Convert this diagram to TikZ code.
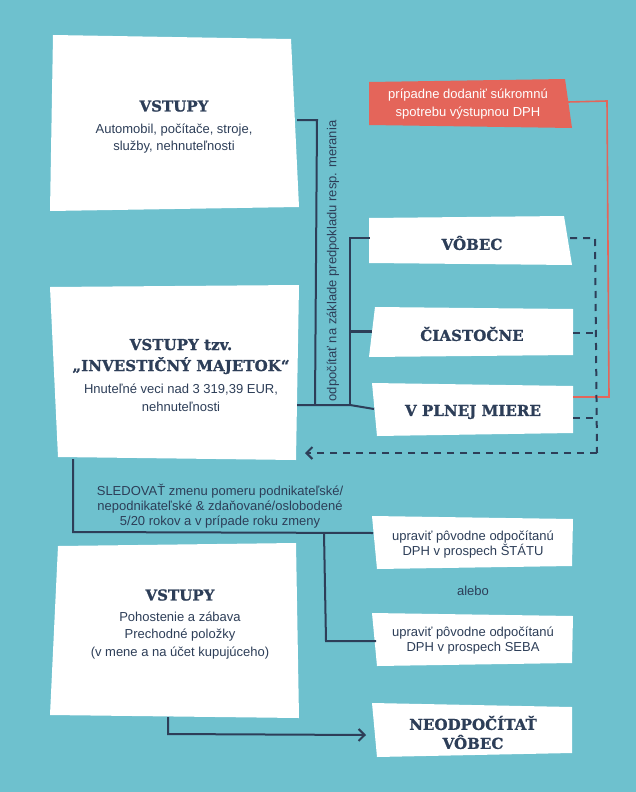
\documentclass[tikz,border=0pt]{standalone}
\usepackage{fontspec}
\setmainfont{Liberation Sans}
\newfontfamily\slab[FakeBold=1.2,LetterSpace=0.5]{DejaVu Serif}
\usetikzlibrary{arrows.meta}
\definecolor{bgc}{RGB}{110,193,206}
\definecolor{ink}{RGB}{45,62,88}
\definecolor{redc}{RGB}{228,101,90}
\begin{document}
\begin{tikzpicture}[x=1pt,y=-1pt,
  ttl/.style={font=\slab\bfseries\fontsize{15}{21}\selectfont, text=ink, align=center, inner sep=0pt},
  txt/.style={font=\fontsize{13}{17.5}\selectfont, text=ink, align=center, inner sep=0pt},
  conn/.style={draw=ink, line width=2pt},
  dsh/.style={draw=ink, line width=2pt, dash pattern=on 7pt off 6pt},
  barb/.style={-{Straight Barb[length=6pt,width=12pt,line width=2pt]}}
]
\fill[bgc] (0,0) rectangle (636,792);
\useasboundingbox (0,0) rectangle (636,792);

% boxes
\fill[white] (53,35) -- (291,39) -- (299,207) -- (50,211) -- cycle;
\fill[white] (50,287) -- (299,285) -- (296,460) -- (58,457) -- cycle;
\fill[white] (58,546) -- (296,543) -- (299,718) -- (50,715) -- cycle;
\fill[redc] (369,82) -- (565,79) -- (572,128) -- (369,125) -- cycle;
\fill[white] (369,218) -- (564,216) -- (572,265) -- (369,263) -- cycle;
\fill[white] (375,307) -- (573,309) -- (573,355) -- (369,357) -- cycle;
\fill[white] (372,383) -- (573,386) -- (573,433) -- (377,436) -- cycle;
\fill[white] (372,516) -- (573,519) -- (572,566) -- (377,569) -- cycle;
\fill[white] (372,613) -- (573,616) -- (572,663) -- (377,666) -- cycle;
\fill[white] (372,703) -- (572,707) -- (572,753) -- (377,757) -- cycle;

% texts
\node[ttl] (t1) at (174,106) {VSTUPY};
\node[txt] (b1) at (174,138.5) {Automobil, počítače, stroje,\\služby, nehnuteľnosti};
\node[ttl] (t2) at (181,356.5) {VSTUPY tzv.\\„INVESTIČNÝ MAJETOK“};
\node[txt] (b2) at (181,398) {Hnuteľné veci nad 3 319,39 EUR,\\nehnuteľnosti};
\node[ttl] (t3) at (180,595) {VSTUPY};
\node[txt] (b3) at (180,635.5) {Pohostenie a zábava\\Prechodné položky\\(v mene a na účet kupujúceho)};
\node[txt, text=white, font=\fontsize{13}{18}\selectfont] (red) at (468,104) {prípadne dodaniť súkromnú\\spotrebu výstupnou DPH};
\node[ttl] (vobec) at (472,243) {VÔBEC};
\node[ttl] (ciast) at (472,334) {ČIASTOČNE};
\node[ttl] (plnej) at (473,412) {V PLNEJ MIERE};
\node[txt, font=\fontsize{13}{15.5}\selectfont] (upr1) at (473,544.5) {upraviť pôvodne odpočítanú\\DPH v prospech ŠTÁTU};
\node[txt] (alebo) at (473,591) {alebo};
\node[txt, font=\fontsize{13}{15.5}\selectfont] (upr2) at (473,640.5) {upraviť pôvodne odpočítanú\\DPH v prospech SEBA};
\node[ttl, font=\slab\bfseries\fontsize{15}{19}\selectfont] (neod) at (473,732.5) {NEODPOČÍTAŤ\\VÔBEC};
\node[txt, font=\fontsize{13}{15}\selectfont] (sled) at (220,506) {SLEDOVAŤ zmenu pomeru podnikateľské/\\nepodnikateľské \& zdaňované/oslobodené\\5/20 rokov a v prípade roku zmeny};
\node[txt, rotate=90] (odp) at (333,261) {odpočítať na základe predpokladu resp. merania};

% connection points
\coordinate (b1r) at (297,120);
\coordinate (b2r) at (297,405);
\coordinate (b2b) at (73,459);
\coordinate (b3b) at (168,717);
\coordinate (vobL) at (370,238);
\coordinate (ciaL) at (372,331);
\coordinate (plnL) at (374,409);
\coordinate (upr1L) at (373,533);
\coordinate (upr2L) at (376,641);
\coordinate (neodL) at (366,735);
\coordinate (redR) at (568,102);
\coordinate (plnR) at (573,397);
\coordinate (vobR) at (570,238);
\coordinate (ciaR) at (573,333);
\coordinate (plnR2) at (573,418);
\coordinate (b2rr) at (305,453);

% solid connectors
\draw[conn] (b1r) -- (317,120) -- (315,405);
\draw[conn] (b2r) -- (350,405) -- (plnL);
\draw[conn] (350,405) -- (350,238) -- (vobL);
\draw[conn, line width=3pt] (350,331) -- (ciaL);
\draw[conn] (b2b) -- (73,532) -- (upr1L);
\draw[conn] (324,533) -- (326,641) -- (upr2L);
\draw[conn, barb] (b3b) -- (168,734) -- (neodL);

% red connector
\draw[draw=redc, line width=1.6pt] (redR) -- (607,101) -- (609,397) -- (plnR);

% dashed connectors
\draw[dsh] (vobR) -- (595,238) -- (597,453);
\draw[dsh, barb] (597,453) -- (b2rr);
\draw[dsh] (ciaR) -- (595,333);
\draw[dsh] (plnR2) -- (596,418);
\end{tikzpicture}
\end{document}
